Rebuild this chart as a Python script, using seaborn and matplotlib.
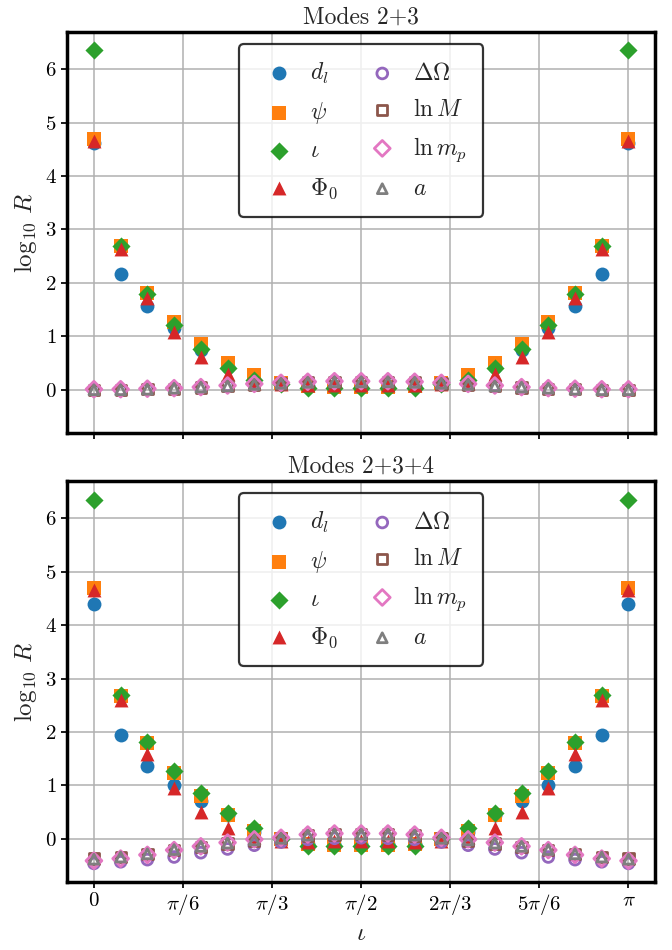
"""Log ratio R of parameter errors versus inclination for two mode sets."""

import numpy as np
import matplotlib
matplotlib.use("Agg")
import matplotlib.pyplot as plt
import seaborn as sns

# inclination grid, 0 .. pi in 21 steps
IOTA = np.linspace(0, np.pi, 21)

PARAM_LABELS = [r'$d_l$', r'$\psi$', r'$\iota$', r'$\Phi_0$',
                r'$\Delta\Omega$', r'$\ln M$', r'$\ln m_p$', r'$a$']
PANEL_TITLES = ['Modes 2+3', 'Modes 2+3+4']

# Modes 2+3
D_L_23 = [4.62, 2.17, 1.56, 1.16, 0.75, 0.42, 0.18, 0.10, 0.07, 0.06, 0.06,
          0.06, 0.07, 0.10, 0.18, 0.42, 0.75, 1.16, 1.56, 2.17, 4.62]
PSI_23 = [4.69, 2.69, 1.81, 1.27, 0.85, 0.51, 0.27, 0.13, 0.07, 0.05, 0.05,
          0.05, 0.07, 0.13, 0.27, 0.51, 0.85, 1.27, 1.81, 2.69, 4.69]
IOTA_23 = [6.35, 2.70, 1.79, 1.21, 0.76, 0.41, 0.19, 0.10, 0.04, 0.03, 0.03,
           0.03, 0.04, 0.10, 0.19, 0.41, 0.76, 1.21, 1.79, 2.70, 6.35]
PHI0_23 = [4.66, 2.64, 1.71, 1.09, 0.62, 0.29, 0.13, 0.10, 0.08, 0.08, 0.08,
           0.08, 0.08, 0.10, 0.13, 0.29, 0.62, 1.09, 1.71, 2.64, 4.66]
DOMEGA_23 = [0.00, 0.00, 0.01, 0.03, 0.05, 0.08, 0.11, 0.13, 0.15, 0.16, 0.16,
             0.16, 0.15, 0.13, 0.11, 0.08, 0.05, 0.03, 0.01, 0.00, 0.00]
LNM_23 = [0.00, 0.00, 0.01, 0.02, 0.04, 0.07, 0.10, 0.12, 0.14, 0.15, 0.15,
          0.15, 0.14, 0.12, 0.10, 0.07, 0.04, 0.02, 0.01, 0.00, 0.00]
LNMP_23 = [0.01, 0.01, 0.02, 0.03, 0.05, 0.08, 0.11, 0.13, 0.15, 0.16, 0.16,
           0.16, 0.15, 0.13, 0.11, 0.08, 0.05, 0.03, 0.02, 0.01, 0.01]
A_23 = [0.00, 0.00, 0.01, 0.03, 0.05, 0.07, 0.10, 0.12, 0.14, 0.15, 0.15,
        0.15, 0.14, 0.12, 0.10, 0.07, 0.05, 0.03, 0.01, 0.00, 0.00]

# Modes 2+3+4
D_L_234 = [4.40, 1.95, 1.37, 1.01, 0.70, 0.44, 0.12, -0.01, -0.09, -0.10, -0.10,
           -0.10, -0.09, -0.01, 0.12, 0.44, 0.70, 1.01, 1.37, 1.95, 4.40]
PSI_234 = [4.69, 2.68, 1.79, 1.23, 0.80, 0.45, 0.14, -0.01, -0.10, -0.11, -0.11,
           -0.11, -0.10, -0.01, 0.14, 0.45, 0.80, 1.23, 1.79, 2.68, 4.69]
IOTA_234 = [6.35, 2.70, 1.81, 1.27, 0.86, 0.49, 0.20, 0.00, -0.13, -0.14, -0.14,
            -0.14, -0.13, 0.00, 0.20, 0.49, 0.86, 1.27, 1.81, 2.70, 6.35]
PHI0_234 = [4.66, 2.60, 1.59, 0.95, 0.50, 0.20, 0.03, -0.04, -0.05, -0.04, -0.04,
            -0.04, -0.05, -0.04, 0.03, 0.20, 0.50, 0.95, 1.59, 2.60, 4.66]
DOMEGA_234 = [-0.46, -0.43, -0.39, -0.34, -0.26, -0.19, -0.12, -0.06, -0.01, 0.01, 0.02,
              0.01, -0.01, -0.06, -0.12, -0.19, -0.26, -0.34, -0.39, -0.43, -0.46]
LNM_234 = [-0.37, -0.34, -0.28, -0.21, -0.15, -0.09, -0.03, 0.01, 0.06, 0.08, 0.09,
           0.08, 0.06, 0.01, -0.03, -0.09, -0.15, -0.21, -0.28, -0.34, -0.37]
LNMP_234 = [-0.41, -0.37, -0.30, -0.21, -0.14, -0.07, -0.01, 0.02, 0.08, 0.10, 0.10,
            0.10, 0.08, 0.02, -0.01, -0.07, -0.14, -0.21, -0.30, -0.37, -0.41]
A_234 = [-0.38, -0.34, -0.28, -0.20, -0.14, -0.08, -0.02, 0.01, 0.07, 0.09, 0.09,
         0.09, 0.07, 0.01, -0.02, -0.08, -0.14, -0.20, -0.28, -0.34, -0.38]

PANEL_DATA = [
    [D_L_23, PSI_23, IOTA_23, PHI0_23, DOMEGA_23, LNM_23, LNMP_23, A_23],
    [D_L_234, PSI_234, IOTA_234, PHI0_234, DOMEGA_234, LNM_234, LNMP_234, A_234],
]

XTICKS = [0, np.pi / 6, np.pi / 3, np.pi / 2, 2 * np.pi / 3, 5 * np.pi / 6, np.pi]
XTICK_LABELS = [r'$0$', r'$\pi/6$', r'$\pi/3$', r'$\pi/2$',
                r'$2\pi/3$', r'$5\pi/6$', r'$\pi$']

MARKERS = ['o', 's', 'D', '^', 'o', 's', 'D', '^']
FILLED = [True, True, True, True, False, False, False, False]
COLORS = sns.color_palette("tab10", 8)
SIZES = [100, 90, 85, 100, 60, 55, 65, 50]


def draw_panel(ax, series: list, title: str) -> None:
    """Draw one panel of scatter points."""
    for vals, label, marker, filled, color, size in zip(
            series, PARAM_LABELS, MARKERS, FILLED, COLORS, SIZES):
        if filled:
            sns.scatterplot(x=IOTA, y=vals, ax=ax, marker=marker, s=size,
                            color=color, linewidth=0, label=label, zorder=3)
        else:
            sns.scatterplot(x=IOTA, y=vals, ax=ax, marker=marker, s=size,
                            color=color, facecolor='none', edgecolor=color,
                            linewidth=2.0, label=label, zorder=3)
    ax.set_title(title, fontsize=17, pad=6)
    ax.set_ylabel(r'$\log_{10}\,R$', fontsize=18)
    leg = ax.legend(loc='upper center', ncol=2, fontsize=17, markerscale=1.0,
                    handletextpad=0.3, columnspacing=0.9, borderpad=0.7,
                    labelspacing=0.6, fancybox=True, framealpha=0.8,
                    edgecolor='black')
    leg.get_frame().set_linewidth(1.6)


sns.set_theme(style="whitegrid")
plt.rcParams.update({
    'font.family': 'serif',
    'font.serif': ['cmr10', 'DejaVu Serif'],
    'mathtext.fontset': 'cm',
    'axes.formatter.use_mathtext': True,
    'axes.edgecolor': 'black',
    'axes.linewidth': 2.5,
    'grid.color': '#b0b0b0',
    'grid.linewidth': 1.1,
    'xtick.bottom': True,
    'ytick.left': True,
    'xtick.color': 'black',
    'ytick.color': 'black',
    'xtick.major.size': 4,
    'ytick.major.size': 4,
    'xtick.labelsize': 15,
    'ytick.labelsize': 15,
})

fig, axes = plt.subplots(2, 1, figsize=(6.72, 9.5), dpi=100, sharex=True, sharey=True)
fig.subplots_adjust(left=0.10, right=0.975, top=0.966, bottom=0.072, hspace=0.122)

for ax, series, title in zip(axes, PANEL_DATA, PANEL_TITLES):
    draw_panel(ax, series, title)

axes[1].set_xticks(XTICKS)
axes[1].set_xticklabels(XTICK_LABELS)
axes[1].set_xlabel(r'$\iota$', fontsize=18)

fig.savefig("out.png", dpi=100)
